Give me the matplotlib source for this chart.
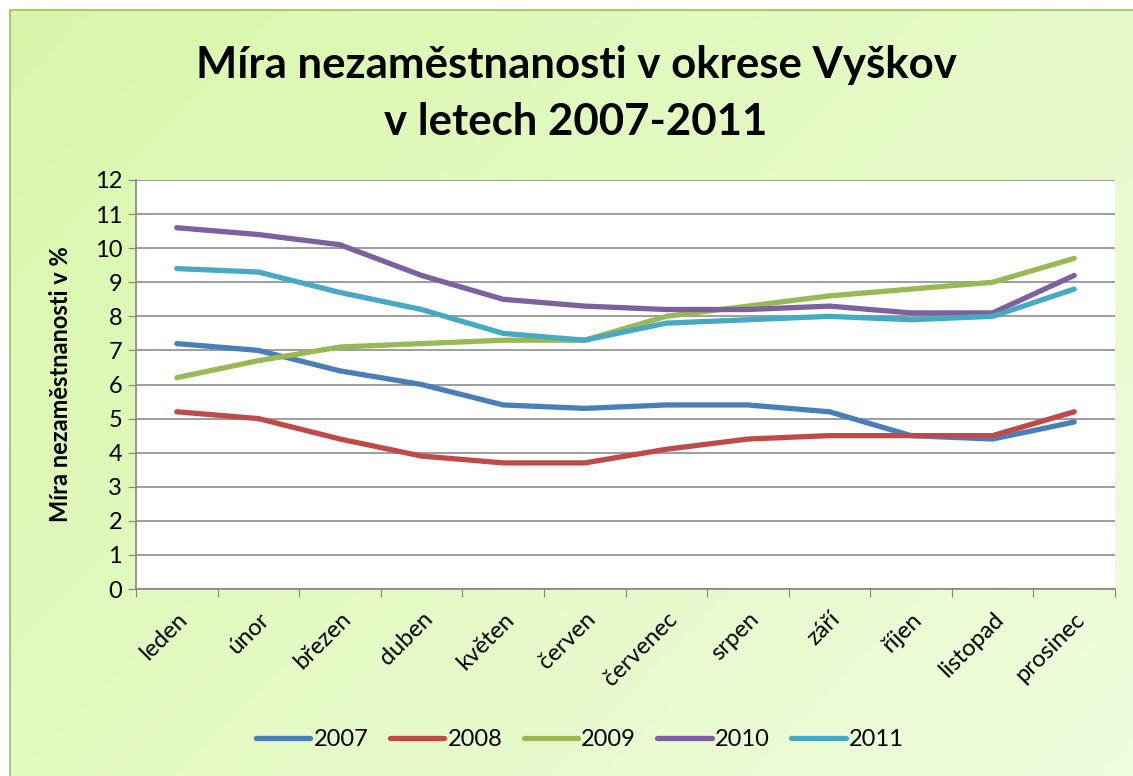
import matplotlib
matplotlib.use('Agg')
import matplotlib.pyplot as plt
import numpy as np

plt.rcParams['font.family'] = ['Lato', 'DejaVu Sans']

mesice = ['leden', 'únor', 'březen', 'duben', 'květen', 'červen',
          'červenec', 'srpen', 'září', 'říjen', 'listopad', 'prosinec']
roky = ['2007', '2008', '2009', '2010', '2011']

m2007 = [7.2, 7.0, 6.4, 6.0, 5.4, 5.3, 5.4, 5.4, 5.2, 4.5, 4.4, 4.9]
m2008 = [5.2, 5.0, 4.4, 3.9, 3.7, 3.7, 4.1, 4.4, 4.5, 4.5, 4.5, 5.2]
m2009 = [6.2, 6.7, 7.1, 7.2, 7.3, 7.3, 8.0, 8.3, 8.6, 8.8, 9.0, 9.7]
m2010 = [10.6, 10.4, 10.1, 9.2, 8.5, 8.3, 8.2, 8.2, 8.3, 8.1, 8.1, 9.2]
m2011 = [9.4, 9.3, 8.7, 8.2, 7.5, 7.3, 7.8, 7.9, 8.0, 7.9, 8.0, 8.8]

barvy = ['#4A7EBB', '#BE4B48', '#98B954', '#7D60A0', '#46AAC5']

W, H = 1133, 776
fig = plt.figure(figsize=(W / 100, H / 100), dpi=100)

# pozadi s prechodem
bg = fig.add_axes([10 / W, 0, 1 - 10 / W, 1 - 10 / H])
c1 = np.array([0.85, 0.97, 0.67])
c2 = np.array([0.94, 0.99, 0.87])
gx, gy = np.meshgrid(np.linspace(0, 1, 200), np.linspace(0, 1, 200))
t = (0.6 * gx + 0.4 * gy)[..., None]
bg.imshow(c1 + (c2 - c1) * t, aspect='auto', extent=[0, 1, 1, 0])
bg.set_xticks([])
bg.set_yticks([])
for s in ['right', 'bottom']:
    bg.spines[s].set_visible(False)
for s in ['left', 'top']:
    bg.spines[s].set_color('#A9C870')
    bg.spines[s].set_linewidth(1.5)

ax = fig.add_axes([136 / W, 1 - 589 / H, (1115 - 136) / W, (589 - 180) / H])
ax.set_facecolor('white')

x = np.arange(len(mesice))
for data, rok, c in zip([m2007, m2008, m2009, m2010, m2011], roky, barvy):
    ax.plot(x, data, color=c, lw=3.8, label=rok, solid_capstyle='round',
            solid_joinstyle='round')

ax.set_xlim(-0.5, len(mesice) - 0.5)
ax.set_ylim(0, 12)
ax.set_yticks(range(0, 13))
ax.tick_params(axis='y', length=6, color='#868686', labelsize=17, pad=4)
ax.set_xticks(np.arange(-0.5, len(mesice), 1))
ax.set_xticklabels([])
ax.tick_params(axis='x', which='major', length=6, color='#868686')
ax.set_xticks(x, minor=True)
ax.set_xticklabels(mesice, minor=True, rotation=45, ha='right',
                   rotation_mode='anchor', fontsize=17)
ax.tick_params(axis='x', which='minor', length=0, pad=14)
ax.grid(axis='y', color='#8C8C8C', lw=1.2)
ax.set_axisbelow(True)
for s in ['top', 'right']:
    ax.spines[s].set_visible(False)
for s in ['left', 'bottom']:
    ax.spines[s].set_color('#868686')
    ax.spines[s].set_linewidth(1.2)

ax.set_ylabel('Míra nezaměstnanosti v %', fontsize=17, fontweight='bold',
              labelpad=16)

fig.text(576 / W, 1 - 65 / H, 'Míra nezaměstnanosti v okrese Vyškov',
         ha='center', va='center', fontsize=31.5, fontweight='bold')
fig.text(576 / W, 1 - 122 / H, 'v letech 2007-2011',
         ha='center', va='center', fontsize=31.5, fontweight='bold')

fig.legend(loc='center', bbox_to_anchor=(580 / W, 1 - 740 / H), ncol=5,
           frameon=False, fontsize=17, handlelength=2.3, columnspacing=0.9,
           handletextpad=0.15)

fig.savefig('out.png', dpi=100)
